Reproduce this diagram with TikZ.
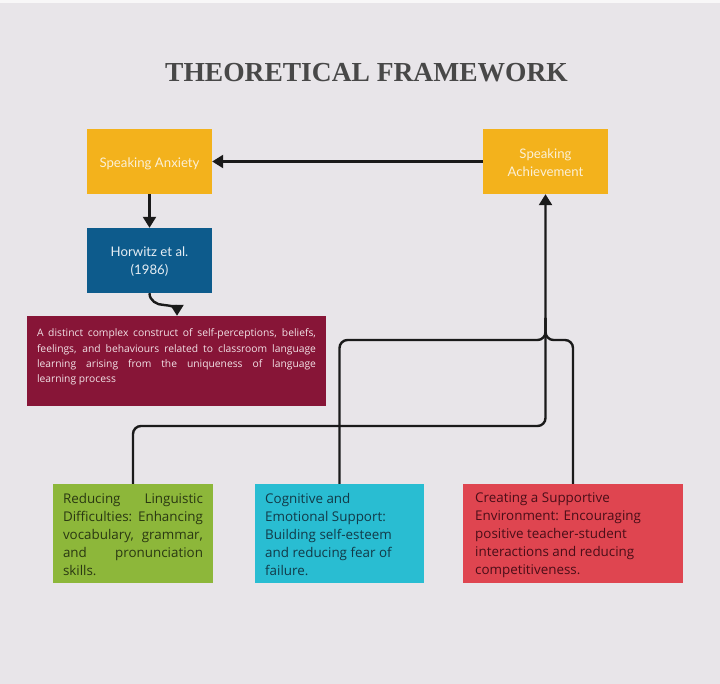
\documentclass[tikz,border=0pt]{standalone}
\usepackage{fontspec}
\usetikzlibrary{arrows.meta,calc}
\newfontfamily\latof{Lato}
\newfontfamily\osf{Open Sans}
\newfontfamily\ttlf{Liberation Serif}
\definecolor{bgc}{HTML}{E8E5E9}
\definecolor{orn}{HTML}{F3B21C}
\definecolor{blu}{HTML}{0D5B8C}
\definecolor{mrn}{HTML}{871537}
\definecolor{grn}{HTML}{8DB73A}
\definecolor{cyn}{HTML}{29BDD2}
\definecolor{rdb}{HTML}{DF4550}
\definecolor{ttlc}{HTML}{484848}
\definecolor{lnc}{HTML}{1A1A1A}
\definecolor{orntx}{HTML}{FBF0D6}
\definecolor{blutx}{HTML}{E6EEF4}
\definecolor{mrntx}{HTML}{F2E2E7}
\definecolor{grntx}{HTML}{2A3812}
\definecolor{cyntx}{HTML}{123A48}
\definecolor{rdtx}{HTML}{4A0E18}
\tikzset{
  box/.style={draw=none, inner sep=0pt, anchor=center},
  toptext/.style={font=\latof\fontsize{13.2}{18}\selectfont, align=center, inner sep=0pt},
  lowtext/.style={font=\osf\fontsize{13.4}{18}\selectfont, align=left, inner sep=0pt},
  conn/.style={draw=lnc, line width=2.4pt},
  arr/.style={conn, -{Triangle[length=11pt,width=13pt]}},
}
\begin{document}
\begin{tikzpicture}[x=1pt,y=-1pt]
\fill[bgc] (0,0) rectangle (720,684);
\useasboundingbox (0,0) rectangle (720,684);
\fill[white!70!bgc] (0,0) rectangle (720,3);

\node[font=\ttlf\bfseries\fontsize{27.5}{30}\selectfont, text=ttlc] (title) at (366.5,73) {THEORETICAL FRAMEWORK};

\node[box, fill=orn, minimum width=125pt, minimum height=65pt] (anx) at (149.5,161.5) {};
\node[toptext, text=orntx] (anxt) at (149.5,163.5) {Speaking Anxiety};
\node[box, fill=orn, minimum width=125pt, minimum height=65pt] (ach) at (545.5,161.5) {};
\node[toptext, text=orntx] (acht) at (545.5,163) {Speaking\\Achievement};
\node[box, fill=blu, minimum width=125pt, minimum height=65pt] (hor) at (149.5,260.5) {};
\node[toptext, text=blutx] (hort) at (149.5,262) {Horwitz et al.\\(1986)};

\node[box, fill=mrn, minimum width=299pt, minimum height=90pt] (mar) at (176.5,361) {};
\node[font=\osf\fontsize{10.3}{15.2}\selectfont, text=mrntx, align=left, inner sep=0pt] (martx) at (176.5,357) {%
\makebox[279pt][s]{A distinct complex construct of self-perceptions, beliefs,}\\
\makebox[279pt][s]{feelings, and behaviours related to classroom language}\\
\makebox[279pt][s]{learning arising from the uniqueness of language}\\
\makebox[279pt][l]{learning process}};

\node[box, fill=grn, minimum width=160pt, minimum height=99pt] (gbox) at (133,533.5) {};
\node[lowtext, text=grntx] (gtx) at (133,535) {%
\makebox[140pt][s]{Reducing Linguistic}\\
\makebox[140pt][s]{Difficulties: Enhancing}\\
\makebox[140pt][s]{vocabulary, grammar,}\\
\makebox[140pt][s]{and pronunciation}\\
\makebox[140pt][l]{skills.}};

\node[box, fill=cyn, minimum width=169pt, minimum height=99pt] (cbox) at (339.5,533.5) {};
\node[lowtext, text=cyntx, anchor=west] (ctx) at (265,535) {Cognitive and\\Emotional Support:\\Building self-esteem\\and reducing fear of\\failure.};

\node[box, fill=rdb, minimum width=220pt, minimum height=99pt] (rbox) at (573,533.5) {};
\node[lowtext, text=rdtx, anchor=west] (rtx) at (475,535.5) {Creating a Supportive\\Environment: Encouraging\\positive teacher-student\\interactions and reducing\\competitiveness.};

% connectors
\draw[arr] (ach.west) -- (anx.east);
\draw[arr] (anx.south) -- (hor.north);
\coordinate (mtop) at (mar.north -| 177,0);
\coordinate (sbend) at (164,305);
\draw[arr] (hor.south) to[out=-90,in=180] (sbend) to[out=0,in=90] (mtop);

\coordinate (jlow) at (ach.south |- 0,426);
\coordinate (jhigh) at (ach.south |- 0,340);
\coordinate (jup) at (ach.south |- 0,318);
\draw[conn, rounded corners=8pt] (cbox.north) |- (jhigh) -- (jup);
\draw[conn, rounded corners=8pt] (rbox.north) |- (jhigh) -- (jup);
\draw[arr, rounded corners=8pt] (gbox.north) |- (jlow) -- (ach.south);
\end{tikzpicture}
\end{document}
